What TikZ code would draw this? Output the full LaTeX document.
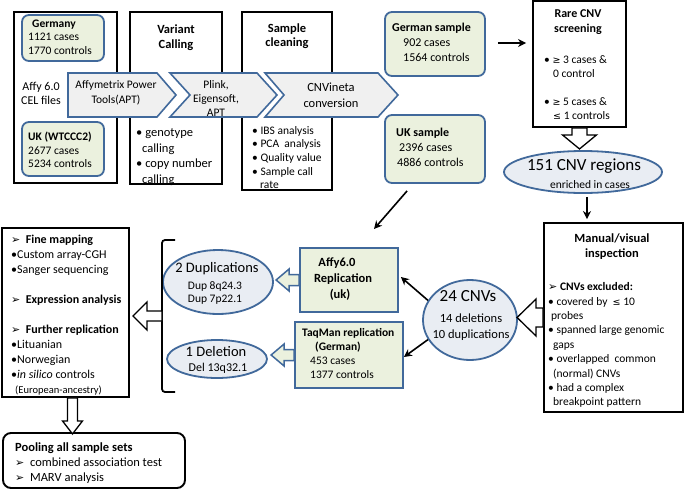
\documentclass[tikz,border=0pt]{standalone}
\usepackage{fontspec}
\setmainfont{Carlito}
\newfontfamily\symf{DejaVu Sans}
\usetikzlibrary{shapes.geometric,arrows.meta,calc}
\definecolor{bbd}{RGB}{65,105,155}
\definecolor{gfill}{RGB}{235,241,222}
\definecolor{efill}{RGB}{233,237,243}
\definecolor{cfill}{RGB}{240,240,240}
\newcommand{\fz}[2]{\fontsize{#1}{#2}\selectfont}
\newcommand{\sge}{{\symf\fontsize{9.5}{9.5}\selectfont ≥}}
\newcommand{\sle}{{\symf\fontsize{9.5}{9.5}\selectfont ≤}}
\newcommand{\harr}{{\symf\fontsize{11}{11}\selectfont ➢}}
\begin{document}
\begin{tikzpicture}[x=1pt,y=-1pt,
 blk/.style={draw=black, line width=1.9pt, fill=white, rectangle, inner sep=0pt},
 bluebox/.style={draw=bbd, line width=1.8pt, fill=gfill, rectangle, inner sep=0pt},
 rbluebox/.style={bluebox, rounded corners=7pt},
 ell/.style={draw=bbd, line width=1.8pt, fill=efill, ellipse, inner sep=0pt},
 chev/.style={draw=bbd, line width=1.6pt, fill=cfill, line join=miter},
 txt/.style={inner sep=0pt, anchor=north west, align=left},
 ctxt/.style={inner sep=0pt, align=center},
 arr/.style={line width=1.6pt, -{Stealth[length=8pt,width=8pt]}},
 hollow/.style={draw=black, line width=1.3pt, fill=white, line join=miter},
 hollowb/.style={draw=bbd, line width=1.5pt, fill=gfill, line join=miter},
]
\useasboundingbox (0,0) rectangle (685,490);

% ---- boxes, top row
\node[blk, minimum width=103, minimum height=171] (affy) at (65.5,97.5) {};
\node[rbluebox, minimum width=82, minimum height=46] (germany) at (63,38) {};
\node[rbluebox, minimum width=82, minimum height=54] (ukbox) at (63,149) {};
\node[blk, minimum width=92, minimum height=172] (variant) at (176,98) {};
\node[blk, minimum width=90, minimum height=178] (sample) at (287,101) {};
\node[rbluebox, minimum width=100, minimum height=64] (german) at (435,44) {};
\node[rbluebox, minimum width=100, minimum height=68] (uksample) at (435,149) {};
\node[blk, minimum width=93, minimum height=126] (rare) at (579.5,64) {};

% ---- chevrons
\draw[chev] (68,73) -- (157,73) -- (176,95) -- (157,117) -- (68,117) -- cycle;
\draw[chev] (170,73) -- (257,73) -- (277,95) -- (257,117) -- (170,117) -- (190,95) -- cycle;
\draw[chev] (265,73) -- (378,73) -- (398,95) -- (378,117) -- (265,117) -- (284,95) -- cycle;

% ---- right / middle
\node[ell, minimum width=158, minimum height=42] (e151) at (583,172) {};
\node[blk, minimum width=139, minimum height=189] (manual) at (613.5,317.5) {};
\node[ell, minimum width=94, minimum height=80] (c24) at (470,320) {};
\node[bluebox, minimum width=98, minimum height=64] (affyrep) at (349,280) {};
\node[bluebox, minimum width=108, minimum height=66] (taqman) at (349,355) {};
\node[ell, minimum width=110, minimum height=64] (dup) at (218,282) {};
\node[ell, minimum width=100, minimum height=38] (del) at (217,359) {};
\node[blk, minimum width=127, minimum height=169] (finemap) at (65.5,312.5) {};
\node[blk, rounded corners=8pt, minimum width=182, minimum height=55] (pool) at (94,460.5) {};

% ---- bracket
\draw[line width=1.8pt, rounded corners=3pt] (175,240) -- (162,240) -- (162,392) -- (175,392);
\coordinate (brk) at (162,316);
\coordinate (ukend) at (374,229);

% ---- thin arrows
\draw[arr] ($(german.east)+(12,-1)$) -- ($(rare.west |- german.east)+(-6,-1)$);
\draw[arr] ($(e151.south)+(4,3)$) -- ($(manual.north -| e151.south)+(4,-3)$);
\draw[arr] ($(uksample.south west)+(23,7)$) -- (ukend);
\draw[arr] (c24.155) -- ($(affyrep.east)+(2,-3)$);
\draw[arr] (c24.205) -- ($(taqman.east)+(0,2)$);

% ---- hollow arrows
\draw[hollow] ($(rare.south)+(-7.5,0)$) -- ++(0,7) -- ++(-9.5,0) -- ($(rare.south)+(0,21)$) -- ++(17,-14) -- ++(-9.5,0) -- ++(0,-7) -- cycle;
\draw[hollow] ($(manual.west)+(0,-9.5)$) -- ++(-7,0) -- ++(0,-9) -- ($(manual.west)+(-26,0)$) -- ++(19,18.5) -- ++(0,-9) -- ++(7,0) -- cycle;
\draw[hollowb] ($(affyrep.west)+(0,-5.5)$) -- ++(-10,0) -- ++(0,-5.5) -- ($(affyrep.west)+(-23,0)$) -- ++(13,11) -- ++(0,-5.5) -- ++(10,0) -- cycle;
\draw[hollowb] ($(taqman.west)+(0,-5.5)$) -- ++(-10,0) -- ++(0,-5.5) -- ($(taqman.west)+(-23,0)$) -- ++(13,11) -- ++(0,-5.5) -- ++(10,0) -- cycle;
\draw[hollow] ($(brk)+(0,-5)$) -- ++(-15,0) -- ++(0,-9) -- ($(brk)+(-29,0)$) -- ++(14,14) -- ++(0,-9) -- ++(15,0) -- cycle;
\draw[hollow] ($(finemap.south)+(2,0)$) -- ++(0,23) -- ++(-5,0) -- ($(finemap.south)+(7,36)$) -- ++(10,-13) -- ++(-5,0) -- ++(0,-23) -- cycle;

% ---- texts
\node[txt, font=\fz{11.5}{13.5}] (tger) at (28,19.5) {\hspace*{4pt}\textbf{Germany}\\1121 cases\\1770 controls};
\node[txt, font=\fz{11.5}{13.8}] (tuk) at (28,131.5) {\textbf{UK (WTCCC2)}\\2677 cases\\5234 controls};
\node[ctxt, font=\fz{12}{14}] (tcel) at (41,93) {Affy 6.0\\CEL files};
\node[ctxt, font=\bfseries\fz{12.5}{15.5}] (tvar) at (176,37.5) {Variant\\Calling};
\node[txt, font=\fz{12.5}{15.5}] (tvarb) at (136,128.5) {• genotype\\\hspace*{6pt}calling\\• copy number\\\hspace*{6pt}calling};
\node[ctxt, font=\bfseries\fz{12.5}{14.5}] (tsam) at (287,36) {Sample\\cleaning};
\node[txt, font=\fz{11.5}{13.7}] (tsamb) at (252,126) {• IBS analysis\\• PCA~ analysis\\• Quality value\\• Sample call\\\hspace*{8pt}rate};
\node[ctxt, font=\fz{11.5}{15}] (tc1) at (116,93) {Affymetrix Power\\Tools(APT)};
\node[ctxt, font=\fz{11.5}{14}] (tc2) at (216,99) {Plink,\\Eigensoft,\\APT};
\node[ctxt, font=\fz{12.5}{16}] (tc3) at (331,95) {CNVineta\\conversion};
\node[txt, font=\fz{12}{15}] (tgs) at (392,22.5) {\textbf{German sample}\\\hspace*{11pt}902 cases\\\hspace*{11pt}1564 controls};
\node[txt, font=\fz{12}{15}] (tus) at (396,127.5) {\textbf{UK sample}\\\hspace*{3pt}2396 cases\\\hspace*{1pt}4886 controls};
\node[ctxt, font=\bfseries\fz{12}{14.5}] (trt) at (578,22) {Rare CNV\\screening};
\node[txt, font=\fz{11.5}{13.5}] (trb) at (544,55.5) {• \sge\ 3 cases \&\\\hspace*{9pt}0 control\\[15pt]• \sge\ 5 cases \&\\\hspace*{9pt}\sle\ 1 controls};
\node[ctxt, font=\fz{17}{17}] (t151a) at (584,166) {151 CNV regions};
\node[ctxt, font=\fz{11.5}{12}] (t151b) at (590,185) {enriched in cases};
\node[ctxt, font=\bfseries\fz{12.5}{15}] (tman) at (612,246.5) {Manual/visual\\inspection};
\node[txt, font=\fz{11.5}{14.4}] (tmanb) at (548,282.5) {\harr\ \textbf{CNVs excluded:}\\• covered by~ \sle\ 10\\\hspace*{3pt}probes\\• spanned large genomic\\\hspace*{5pt}gaps\\• overlapped~ common\\\hspace*{5pt}(normal) CNVs\\• had a complex\\\hspace*{5pt}breakpoint pattern};
\node[ctxt, font=\fz{17}{17}] (t24a) at (468,296) {24 CNVs};
\node[ctxt, font=\fz{12.5}{16}] (t24b) at (471,327) {14 deletions\\10 duplications};
\node[ctxt, font=\bfseries\fz{12.5}{16}] (tar) at (343,279) {\hspace*{-12pt}Affy6.0\\Replication\\\hspace*{-6pt}(uk)};
\node[txt, font=\fz{11.5}{13.8}] (ttq) at (302,328.5) {\textbf{TaqMan replication}\\\hspace*{13pt}\textbf{(German)}\\\hspace*{8pt}453 cases\\\hspace*{8pt}1377 controls};
\node[ctxt, font=\fz{14.5}{15}] (tdup1) at (217,269) {2 Duplications};
\node[ctxt, font=\fz{11.5}{13.5}] (tdup2) at (215,293) {Dup 8q24.3\\Dup 7p22.1};
\node[ctxt, font=\fz{14.5}{15}] (tdel1) at (216,352) {1 Deletion};
\node[ctxt, font=\fz{12}{13}] (tdel2) at (218,368) {Del 13q32.1};
\node[txt, font=\fz{12}{15}] (tfm) at (11,234.5) {\harr\ \ \textbf{Fine mapping}\\•Custom array-CGH\\•Sanger sequencing\\[15pt]\harr\ \ \textbf{Expression analysis}\\[15pt]\harr\ \ \textbf{Further replication}\\•Lituanian\\•Norwegian\\•\textit{in silico} controls\\\hspace*{4pt}{\fz{10.5}{15}(European-ancestry)}};
\node[txt, font=\fz{12.5}{15}] (tpool) at (15,442.5) {\textbf{Pooling all sample sets}\\\harr\ \ combined association test\\\harr\ \ MARV analysis};
\end{tikzpicture}
\end{document}
